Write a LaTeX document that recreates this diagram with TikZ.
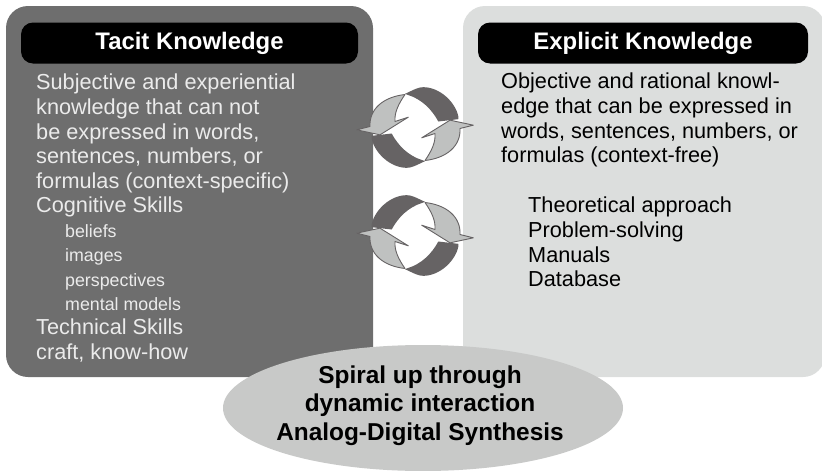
\documentclass[tikz,border=0pt]{standalone}
\usepackage{fontspec}
\setmainfont{Liberation Sans}
\usepackage{xcolor}
\usetikzlibrary{shapes.geometric}
\definecolor{tacitgray}{HTML}{6E6E6E}
\definecolor{explicitgray}{HTML}{DCDEDD}
\definecolor{spiralgray}{HTML}{C8C9C8}
\definecolor{banddark}{HTML}{666364}
\definecolor{bandlight}{HTML}{BFC1C0}
\tikzset{
  panel/.style={rectangle,rounded corners=22pt,minimum height=371pt},
  titlebar/.style={rectangle,fill=black,rounded corners=12pt,minimum height=41pt,text=white,font=\fontsize{23.9}{28}\selectfont\bfseries},
  bodytext/.style={inner sep=0pt,anchor=north west,align=left,font=\fontsize{21.7}{24.6}\selectfont},
  smalltext/.style={inner sep=0pt,anchor=north west,align=left,font=\fontsize{17.8}{24.3}\selectfont},
  bandback/.style={fill=banddark},
  bandfront/.style={fill=bandlight,draw=banddark,line width=0.9pt,line join=round},
}
\newcommand{\swirl}[2]{%
\begin{scope}[shift={(#1)},x=0.3333pt,y=#2*0.3333pt]
\foreach \a in {0,180}{
\fill[bandback,rotate=\a](-30,-101)..controls (0,-115) and (10,-121)..(25,-121)
  ..controls (75,-121) and (122,-75)..(130,-33)--(130,-25)--(70,-18)
  ..controls (50,-55) and (20,-85)..(-22,-98)--cycle;
}
\foreach \a in {0,180}{
\draw[bandfront,rotate=\a](-30,-99)..controls (-95,-92) and (-138,-55)..(-135,-3)
  --(-175,7)--(-105,22)--(-20,-31)--(-60,-18)
  ..controls (-62,-45) and (-50,-70)..(-30,-99)--cycle;
}
\end{scope}}
\begin{document}
\begin{tikzpicture}[x=1pt,y=-1pt]
\useasboundingbox (0,0) rectangle (822,471);
\node[panel,fill=tacitgray,minimum width=367pt](tacitpanel) at (189.5,191.5){};
\node[panel,fill=explicitgray,minimum width=362pt](explicitpanel) at (644,191.5){};
\node[titlebar,minimum width=337pt](tacittitle) at (189.5,43){Tacit Knowledge};
\node[titlebar,minimum width=330pt](explicittitle) at (643,43){Explicit Knowledge};
\swirl{415,127.5}{-1}
\swirl{415,235.5}{1}
\node[ellipse,fill=spiralgray,minimum width=400pt,minimum height=126pt,inner sep=0pt](spiral) at (423,408){};
\node[align=center,font=\fontsize{24.4}{28.5}\selectfont\bfseries](spiraltext) at (420,405.5){Spiral up through\\dynamic interaction\\Analog-Digital Synthesis};
\node[bodytext,text=white!92!black](tacitbody) at (36,74){Subjective and experiential\\knowledge that can not\\be expressed in words,\\sentences, numbers, or\\formulas (context-specific)\\Cognitive Skills};
\node[smalltext,text=white!92!black](cognitive) at (65,224.5){beliefs\\images\\perspectives\\mental models};
\node[bodytext,text=white!92!black](technical) at (36,319){Technical Skills\\craft, know-how};
\node[bodytext](explicitbody) at (501,73){Objective and rational knowl-\\edge that can be expressed in\\words, sentences, numbers, or\\formulas (context-free)};
\node[bodytext](explicitlist) at (528,197){Theoretical approach\\Problem-solving\\Manuals\\Database};
\end{tikzpicture}
\end{document}
